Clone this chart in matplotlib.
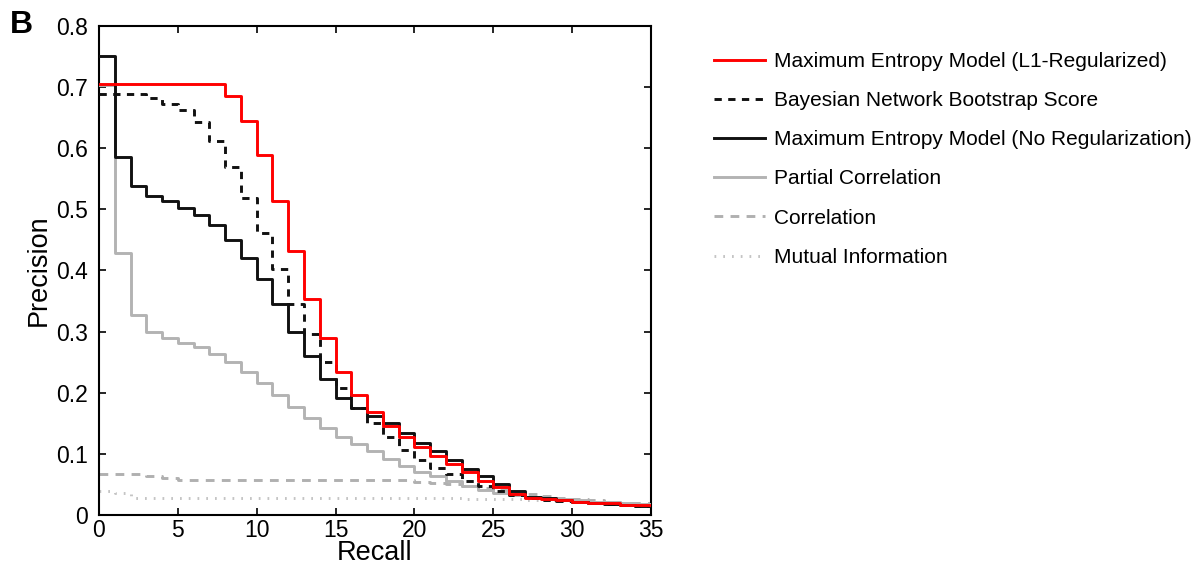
import numpy as np
import matplotlib
matplotlib.use("Agg")
import matplotlib.pyplot as plt

# recall positions (steps at each integer recall)
recall = np.arange(0, 36)

# precision values, one per recall step
maxent_l1 = [0.705, 0.705, 0.705, 0.705, 0.705, 0.705, 0.705, 0.705, 0.685, 0.645,
             0.589, 0.514, 0.432, 0.353, 0.290, 0.234, 0.196, 0.168, 0.146, 0.128,
             0.112, 0.096, 0.083, 0.070, 0.056, 0.045, 0.034, 0.028, 0.026, 0.024,
             0.022, 0.020, 0.019, 0.017, 0.016, 0.016]
bayes_boot = [0.689, 0.689, 0.689, 0.682, 0.673, 0.662, 0.643, 0.612, 0.569, 0.519,
              0.461, 0.402, 0.345, 0.296, 0.251, 0.208, 0.175, 0.150, 0.127, 0.106,
              0.090, 0.077, 0.067, 0.055, 0.047, 0.040, 0.033, 0.028, 0.025, 0.023,
              0.021, 0.019, 0.018, 0.016, 0.015, 0.015]
maxent_noreg = [0.751, 0.586, 0.539, 0.522, 0.513, 0.503, 0.491, 0.474, 0.450, 0.421,
                0.386, 0.345, 0.300, 0.260, 0.222, 0.191, 0.175, 0.162, 0.150, 0.134,
                0.118, 0.104, 0.090, 0.076, 0.063, 0.051, 0.039, 0.030, 0.027, 0.025,
                0.022, 0.020, 0.018, 0.016, 0.015, 0.015]
partial_corr = [0.703, 0.428, 0.328, 0.300, 0.289, 0.282, 0.275, 0.264, 0.251, 0.234,
                0.216, 0.196, 0.177, 0.158, 0.142, 0.127, 0.116, 0.104, 0.092, 0.080,
                0.071, 0.063, 0.056, 0.047, 0.041, 0.036, 0.033, 0.030, 0.028, 0.026,
                0.024, 0.022, 0.021, 0.019, 0.018, 0.018]
correlation = [0.067, 0.067, 0.067, 0.063, 0.060, 0.057, 0.057, 0.057, 0.057, 0.057,
               0.057, 0.057, 0.057, 0.057, 0.057, 0.057, 0.057, 0.057, 0.057, 0.057,
               0.054, 0.052, 0.050, 0.047, 0.044, 0.041, 0.038, 0.034, 0.031, 0.028,
               0.026, 0.024, 0.022, 0.020, 0.019, 0.019]
mutual_info = [0.039, 0.036, 0.028, 0.028, 0.028, 0.028, 0.028, 0.028, 0.028, 0.028,
               0.028, 0.028, 0.028, 0.028, 0.028, 0.028, 0.028, 0.028, 0.028, 0.027,
               0.027, 0.027, 0.027, 0.026, 0.026, 0.026, 0.026, 0.025, 0.024, 0.023,
               0.022, 0.021, 0.020, 0.019, 0.018, 0.017]

labels = ["Maximum Entropy Model (L1-Regularized)",
          "Bayesian Network Bootstrap Score",
          "Maximum Entropy Model (No Regularization)",
          "Partial Correlation",
          "Correlation",
          "Mutual Information"]

xticks = [0, 5, 10, 15, 20, 25, 30, 35]
yticks = [0, 0.1, 0.2, 0.3, 0.4, 0.5, 0.6, 0.7, 0.8]
ytick_labels = ["0", "0.1", "0.2", "0.3", "0.4", "0.5", "0.6", "0.7", "0.8"]

plt.rcParams['font.family'] = ['Liberation Sans', 'DejaVu Sans']

fig = plt.figure(figsize=(12.01, 5.65), dpi=100)
ax = fig.add_axes([0.0824, 0.0885, 0.4597, 0.8655])

lw = 2.1
# drawn back to front
ax.plot(recall, mutual_info, drawstyle='steps-post', color='#c4c4c4', lw=lw,
        linestyle=(0, (0.6, 2.4)), label=labels[5], zorder=1)
ax.plot(recall, correlation, drawstyle='steps-post', color='#b0b0b0', lw=lw,
        linestyle=(0, (3, 2.5)), label=labels[4], zorder=2)
ax.plot(recall, partial_corr, drawstyle='steps-post', color='#b3b3b3', lw=lw,
        label=labels[3], zorder=3)
ax.plot(recall, maxent_noreg, drawstyle='steps-post', color='#111111', lw=lw,
        label=labels[2], zorder=4)
ax.plot(recall, bayes_boot, drawstyle='steps-post', color='#111111', lw=lw,
        linestyle=(0, (2.5, 2.2)), label=labels[1], zorder=5)
ax.plot(recall, maxent_l1, drawstyle='steps-post', color='#ff0000', lw=lw,
        label=labels[0], zorder=6)

ax.set_xlim(0, 35)
ax.set_ylim(0, 0.8)
ax.set_xticks(xticks)
ax.set_yticks(yticks)
ax.set_yticklabels(ytick_labels)
ax.tick_params(direction='in', top=True, right=True, length=5, width=1.2,
               labelsize=16.5)
ax.tick_params(axis='y', pad=8)
ax.tick_params(axis='x', pad=3)
for sp in ax.spines.values():
    sp.set_linewidth(1.5)

ax.set_xlabel("Recall", fontsize=19.5, labelpad=-1.5)
ax.set_ylabel("Precision", fontsize=19.5, labelpad=3)

# legend order as in the figure
handles, labs = ax.get_legend_handles_labels()
order = [labs.index(l) for l in labels]
fig.legend([handles[i] for i in order], labels, loc='center left',
           bbox_to_anchor=(0.5945, 0.718), frameon=False, fontsize=15,
           handlelength=2.45, handletextpad=0.45, labelspacing=0.97,
           borderpad=0, borderaxespad=0)

fig.text(0.008, 0.955, "B", fontsize=23, fontweight='bold', va='center')

fig.savefig("out.png", dpi=100)
